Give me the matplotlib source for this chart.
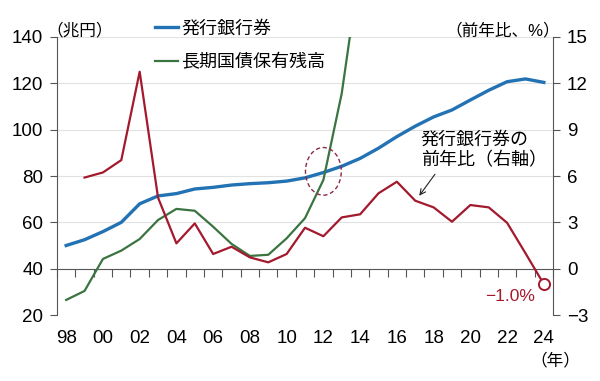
import matplotlib
matplotlib.use('Agg')
import matplotlib.pyplot as plt
from matplotlib.patches import Ellipse

plt.rcParams['font.family'] = ['Liberation Sans', 'Noto Sans CJK JP']

# data
years = list(range(1998, 2025))
notes = [50, 52.5, 56, 60, 68, 71.4, 72.4, 74.4, 75.1, 76.1, 76.7, 77.1, 77.8,
         79.2, 81.5, 84.2, 87.6, 92, 97, 101.5, 105.5, 108.5, 112.8, 117, 120.7,
         121.9, 120.4]
jgb_years = list(range(1998, 2015))
jgb = [26.5, 30.4, 44.2, 47.8, 52.8, 61, 65.8, 65, 58.1, 50.7, 45.5, 46, 53.1,
       61.8, 78.3, 115.7, 171]
yoy_years = list(range(1999, 2025))
yoy = [5.9, 6.23, 7.03, 12.75, 4.6, 1.64, 2.93, 0.95, 1.42, 0.73, 0.41, 0.95,
       2.65, 2.1, 3.32, 3.52, 4.88, 5.63, 4.4, 3.97, 3.04, 4.12, 3.97, 2.97,
       1.0, -1.0]
xlabels = ['98', '00', '02', '04', '06', '08', '10', '12', '14', '16', '18',
           '20', '22', '24']
left_ticks = [20, 40, 60, 80, 100, 120, 140]
right_ticks = [-3, 0, 3, 6, 9, 12, 15]

BLUE = '#2272b4'
GREEN = '#3a7440'
RED = '#a3192d'
AXC = '#555555'

fig = plt.figure(figsize=(6, 3.81), dpi=100)
ax = fig.add_axes([0.095, 0.1732, 0.8267, 0.7297])
ax2 = ax.twinx()

ax.set_xlim(1997.5, 2024.5)
ax.set_ylim(20, 140)
ax2.set_ylim(-3, 15)

for v in left_ticks:
    if v != 40:
        ax.axhline(v, color='#e2e2e2', lw=0.8, zorder=0)

ln1, = ax.plot(years, notes, color=BLUE, lw=2.4, label='発行銀行券', zorder=3)
ln2, = ax.plot(jgb_years, jgb, color=GREEN, lw=1.6, label='長期国債保有残高', zorder=3)
ax2.plot(yoy_years, yoy, color=RED, lw=1.6, zorder=3)
ax2.plot(yoy_years[-1], yoy[-1], 'o', ms=8, mfc='white', mec=RED, mew=1.4, zorder=4)

# spines
for s in ['top', 'right']:
    ax.spines[s].set_visible(False)
for s in ['top', 'left', 'bottom']:
    ax2.spines[s].set_visible(False)
ax.spines['left'].set_color(AXC)
ax2.spines['right'].set_color(AXC)
ax.spines['bottom'].set_position(('data', 40))
ax.spines['bottom'].set_color(AXC)

ax.set_xticks([y + 0.5 for y in range(1997, 2025)])
ax.tick_params(axis='x', direction='out', length=6, color=AXC, labelbottom=False)
ax.set_yticks(left_ticks)
ax.tick_params(axis='y', direction='out', length=5, color=AXC, labelsize=13.5, pad=5)
ax2.set_yticks(right_ticks)
ax2.tick_params(axis='y', direction='out', length=5, color=AXC, labelsize=13.5, pad=5)

sec = ax.secondary_xaxis(0)
sec.set_xticks(range(1998, 2025, 2))
sec.set_xticklabels(xlabels)
sec.spines['bottom'].set_visible(False)
sec.tick_params(length=0, labelsize=13.5, pad=11)

ax.legend(handles=[ln1, ln2], loc='upper left', bbox_to_anchor=(0.1976, 1.06),
          frameon=False, fontsize=13, handlelength=1.3, handletextpad=0.15,
          labelspacing=0.95, borderpad=0, borderaxespad=0)

ax.add_patch(Ellipse((2012.0, 82), 1.95, 20.6, fill=False, ls=(0, (3, 2)),
                     edgecolor='#8c2a45', lw=1, zorder=5))

ax.annotate('', xy=(2017.13, 70.5), xytext=(2018.16, 81.7),
            arrowprops=dict(arrowstyle='->', color='#222222', lw=0.8))
ax.text(2017.3, 91, '発行銀行券の\n前年比（右軸）', ha='left', va='center',
        fontsize=13, linespacing=1.3)
ax2.text(2022.14, -1.77, '−1.0%', color=RED, ha='center', va='center', fontsize=12.5)

fig.text(0.133, 0.921, '（兆円）', ha='center', va='center', fontsize=12)
fig.text(0.837, 0.921, '（前年比、%）', ha='center', va='center', fontsize=12)
fig.text(0.925, 0.055, '（年）', ha='center', va='center', fontsize=12)

fig.savefig('out.png', dpi=100)
